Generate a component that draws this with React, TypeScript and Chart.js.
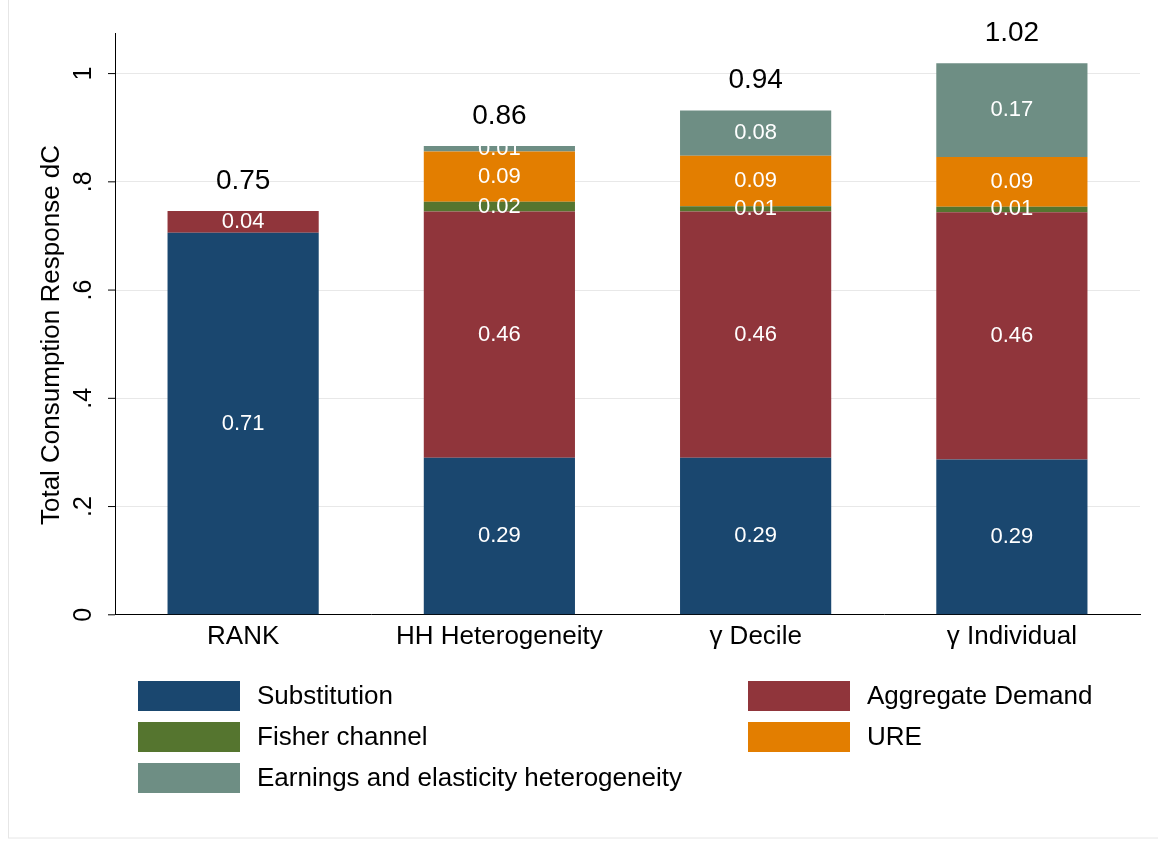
import { useEffect, useRef } from "react";
import { Chart, registerables } from "chart.js";
Chart.register(...registerables);

const categories = ["RANK", "HH Heterogeneity", "γ Decile", "γ Individual"];
const seriesNames = ["Substitution", "Aggregate Demand", "Fisher channel", "URE", "Earnings and elasticity heterogeneity"];
const substitution = [0.706, 0.29, 0.29, 0.287];
const aggregateDemand = [0.04, 0.455, 0.455, 0.457];
const fisher = [0, 0.018, 0.01, 0.01];
const ure = [0, 0.093, 0.093, 0.092];
const earnings = [0, 0.01, 0.084, 0.173];
const totals = [0.75, 0.86, 0.94, 1.02];
const yTicks = [0, 0.2, 0.4, 0.6, 0.8, 1];
const yTickLabels = ["0", ".2", ".4", ".6", ".8", "1"];
const colors = ["#1a476f", "#90353b", "#55752f", "#e37e00", "#6e8e84"];
const FONT = "Arial, 'Liberation Sans', sans-serif";

export default function App() {
  const ref = useRef<HTMLCanvasElement>(null);
  useEffect(() => {
    document.body.style.margin = "0";
    const series = [substitution, aggregateDemand, fisher, ure, earnings];
    const plugin = {
      id: "custom",
      afterDraw(chart: any) {
        const ctx = chart.ctx;
        const y = chart.scales.y, x = chart.scales.x;
        const ca = chart.chartArea;
        ctx.save();
        ctx.strokeStyle = "#e6e6e6"; ctx.lineWidth = 1;
        ctx.strokeRect(8.5, -1, 1160, 839);
        ctx.strokeStyle = "#000"; ctx.fillStyle = "#000";
        ctx.font = `25px ${FONT}`;
        yTicks.forEach((v, i) => {
          const py = y.getPixelForValue(v);
          ctx.beginPath(); ctx.moveTo(ca.left - 7, py); ctx.lineTo(ca.left, py); ctx.stroke();
          ctx.save(); ctx.translate(84, py); ctx.rotate(-Math.PI / 2);
          ctx.textAlign = "center"; ctx.textBaseline = "middle";
          ctx.fillText(yTickLabels[i], 0, 0); ctx.restore();
        });
        ctx.save(); ctx.translate(52, 335); ctx.rotate(-Math.PI / 2);
        ctx.textAlign = "center"; ctx.textBaseline = "middle";
        ctx.font = `26px ${FONT}`;
        ctx.fillText("Total Consumption Response dC", 0, 0); ctx.restore();
        ctx.textAlign = "center"; ctx.textBaseline = "middle";
        categories.forEach((_, ci) => {
          let base = 0;
          series.forEach((s) => {
            const v = s[ci];
            if (v > 0) {
              ctx.fillStyle = "#fff"; ctx.font = `22px ${FONT}`;
              ctx.fillText(v.toFixed(2), x.getPixelForValue(ci), y.getPixelForValue(base + v / 2));
            }
            base += v;
          });
          ctx.fillStyle = "#000"; ctx.font = `28px ${FONT}`;
          ctx.fillText(totals[ci].toFixed(2), x.getPixelForValue(ci), y.getPixelForValue(base) - 30);
        });
        const pos = [[138, 696], [748, 696], [138, 737], [748, 737], [138, 778]];
        ctx.textAlign = "left"; ctx.font = `26px ${FONT}`;
        pos.forEach(([lx, ly], i) => {
          ctx.fillStyle = colors[i]; ctx.fillRect(lx, ly - 15, 102, 30);
          ctx.fillStyle = "#000"; ctx.fillText(seriesNames[i], lx + 119, ly + 1);
        });
        ctx.restore();
      },
    };
    const chart = new Chart(ref.current!, {
      type: "bar",
      data: {
        labels: categories,
        datasets: series.map((d, i) => ({ label: seriesNames[i], data: d, backgroundColor: colors[i], barPercentage: 0.59, categoryPercentage: 1 })),
      },
      options: {
        animation: false, responsive: false,
        layout: { padding: { left: 115, right: 18, top: 33, bottom: 191 } },
        plugins: { legend: { display: false }, tooltip: { enabled: false } },
        scales: {
          x: { stacked: true, grid: { display: false }, border: { color: "#000" }, ticks: { color: "#000", font: { size: 26, family: FONT }, padding: -2 } },
          y: { stacked: true, min: 0, max: 1.075, afterBuildTicks: (s: any) => { s.ticks = yTicks.map((v) => ({ value: v })); },
            ticks: { display: false }, grid: { color: "#e8e8e8", drawTicks: false }, border: { color: "#000" } },
        },
      },
      plugins: [plugin],
    });
    return () => chart.destroy();
  }, []);
  return <canvas ref={ref} width={1158} height={841} style={{ display: "block" }} />;
}
